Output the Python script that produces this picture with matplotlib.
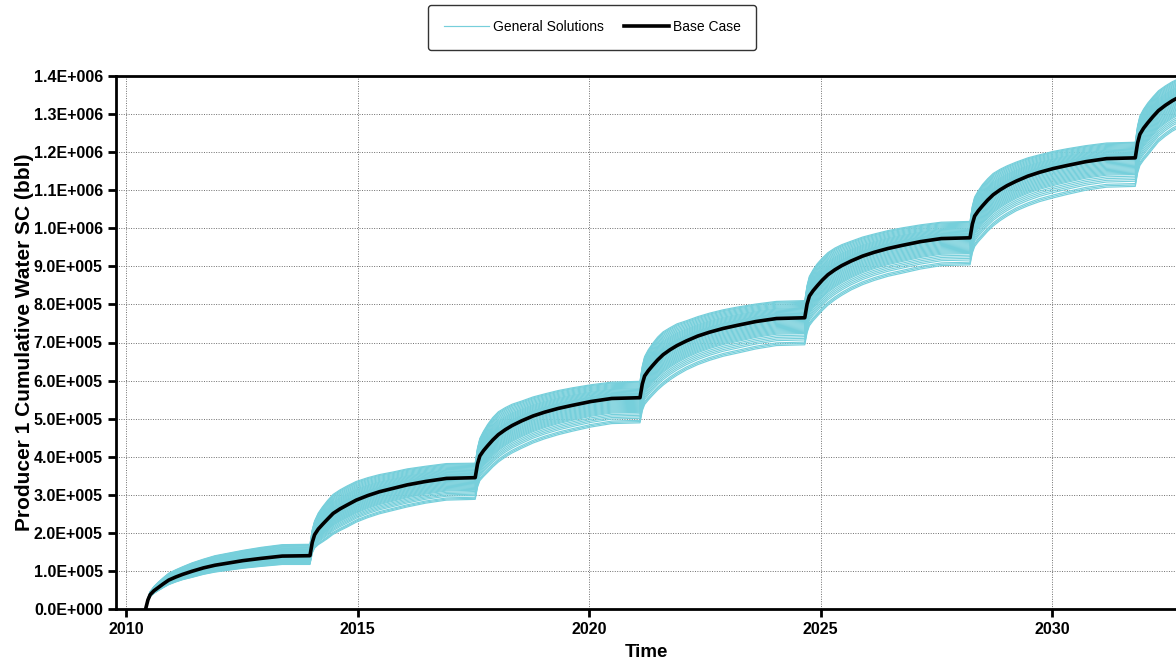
import numpy as np
import matplotlib.pyplot as plt
from matplotlib.ticker import FuncFormatter, MultipleLocator

plt.rcParams['font.family'] = ['Liberation Sans', 'DejaVu Sans']

# base case cumulative water (thousand bbl), one row per production cycle
years = [2010.42, 2010.47, 2010.52, 2010.60, 2010.69, 2010.80, 2010.92, 2011.07, 2011.22, 2011.42, 2011.67, 2011.92, 2012.22, 2012.52, 2012.92, 2013.37,
         2013.97, 2014.02, 2014.07, 2014.15, 2014.24, 2014.35, 2014.47, 2014.62, 2014.77, 2014.97, 2015.22, 2015.47, 2015.77, 2016.07, 2016.47, 2016.92,
         2017.54, 2017.59, 2017.64, 2017.72, 2017.81, 2017.92, 2018.04, 2018.19, 2018.34, 2018.54, 2018.79, 2019.04, 2019.34, 2019.64, 2020.04, 2020.49,
         2021.10, 2021.15, 2021.20, 2021.28, 2021.37, 2021.48, 2021.60, 2021.75, 2021.90, 2022.10, 2022.35, 2022.60, 2022.90, 2023.20, 2023.60, 2024.05,
         2024.66, 2024.71, 2024.76, 2024.84, 2024.93, 2025.04, 2025.16, 2025.31, 2025.46, 2025.66, 2025.91, 2026.16, 2026.46, 2026.76, 2027.16, 2027.61,
         2028.23, 2028.28, 2028.33, 2028.41, 2028.50, 2028.61, 2028.73, 2028.88, 2029.03, 2029.23, 2029.48, 2029.73, 2030.03, 2030.33, 2030.73, 2031.18,
         2031.80, 2031.85, 2031.90, 2031.98, 2032.07, 2032.18, 2032.30, 2032.45, 2032.60, 2032.80]
base_k = [0, 24, 38, 48, 56, 66, 76, 84, 91, 99, 108, 115, 121, 127, 133, 139,
          140, 175, 195, 210, 222, 236, 251, 263, 273, 286, 298, 308, 317, 326, 335, 343,
          345, 381, 402, 416, 429, 444, 458, 471, 482, 494, 507, 517, 527, 535, 545, 553,
          555, 591, 612, 626, 639, 654, 668, 681, 692, 704, 717, 727, 737, 745, 755, 763,
          765, 801, 822, 836, 849, 864, 878, 891, 902, 914, 927, 937, 947, 955, 965, 973,
          975, 1011, 1032, 1046, 1059, 1074, 1088, 1101, 1112, 1124, 1137, 1147, 1157, 1165, 1175, 1183,
          1185, 1224, 1247, 1263, 1277, 1293, 1309, 1323, 1335, 1348]

# spread of the general solutions above / below the base case (thousand bbl)
upper_k = [0, 5, 8, 11, 14, 16, 18, 19, 20, 22, 23, 25, 26, 27, 29, 30,
           30, 33, 36, 42, 46, 49, 50, 50, 50, 49, 47, 45, 43, 42, 40, 39,
           38, 42, 46, 51, 56, 59, 60, 58, 56, 52, 50, 48, 47, 46, 44, 43,
           43, 47, 51, 55, 58, 60, 60, 58, 57, 53, 51, 50, 49, 48, 46, 45,
           45, 49, 52, 55, 58, 58, 58, 57, 55, 52, 50, 48, 47, 46, 44, 43,
           43, 47, 50, 53, 56, 56, 56, 54, 52, 50, 48, 46, 45, 44, 42, 41,
           41, 45, 48, 50, 52, 52, 52, 51, 50, 48]
lower_k = [0, -3, -5, -7, -8, -10, -12, -13, -14, -16, -17, -18, -19, -20, -21, -22,
           -23, -28, -35, -41, -46, -51, -55, -57, -58, -58, -58, -58, -58, -58, -57, -57,
           -57, -61, -65, -68, -70, -71, -72, -72, -72, -72, -71, -70, -69, -68, -67, -66,
           -66, -70, -75, -77, -78, -79, -80, -79, -78, -76, -75, -74, -73, -73, -72, -71,
           -71, -75, -78, -79, -80, -80, -80, -79, -78, -76, -75, -74, -73, -73, -72, -71,
           -71, -76, -80, -81, -82, -82, -82, -81, -80, -78, -78, -77, -77, -76, -75, -75,
           -75, -79, -82, -84, -85, -84, -82, -81, -80, -80]

# where each general solution sits inside that spread (-1 lowest, 1 highest)
positions = [1.0, 0.95, 0.9, 0.84, 0.78, 0.72, 0.66, 0.6, 0.55, 0.5,
             0.45, 0.4, 0.35, 0.3, 0.26, 0.22, 0.18, 0.14, 0.1, 0.06,
             0.03, -0.02, -0.06, -0.1, -0.14, -0.18, -0.22, -0.26, -0.3, -0.34,
             -0.38, -0.42, -0.46, -0.5, -0.54, -0.58, -0.64, -0.7, -0.76, -0.82,
             -0.9, -0.95, -1.0]

x = np.array(years)
base = np.array(base_k) * 1000.0
up = np.array(upper_k) * 1000.0
lo = np.array(lower_k) * 1000.0

fig = plt.figure(figsize=(11.76, 6.62), dpi=100)
ax = fig.add_axes([116 / 1176, 53 / 662, 1060 / 1176, 533 / 662])

for i, p in enumerate(positions):
    y = base + (p * up if p >= 0 else -p * lo)
    ax.plot(x, y, color='#76cfdb', lw=0.85,
            label='General Solutions' if i == 0 else None, zorder=2)
ax.plot(x, base, color='black', lw=2.6, label='Base Case', zorder=3)

ax.set_xlim(2009.78, 2032.68)
ax.set_ylim(0, 1.4e6)
ax.xaxis.set_major_locator(MultipleLocator(5))
ax.yaxis.set_major_locator(MultipleLocator(1e5))


def sci(v, pos):
    if v <= 0:
        return '0.0E+000'
    e = int(np.floor(np.log10(v) + 1e-9))
    return f'{v / 10**e:.1f}E+{e:03d}'


ax.yaxis.set_major_formatter(FuncFormatter(sci))
ax.grid(True, color='#6e6e6e', ls=(0, (1, 1.5)), lw=0.7)
ax.set_axisbelow(True)

for s in ['left', 'bottom', 'top']:
    ax.spines[s].set_linewidth(2.0)
ax.spines['right'].set_visible(False)
ax.tick_params(direction='out', length=6, width=2, labelsize=11.5)
for lab in ax.get_xticklabels() + ax.get_yticklabels():
    lab.set_fontweight('bold')

ax.set_xlabel('Time', fontsize=13.5, fontweight='bold', labelpad=5)
ax.set_ylabel('Producer 1 Cumulative Water SC (bbl)', fontsize=15,
              fontweight='bold', labelpad=-0.5)

leg = fig.legend(loc='upper center', bbox_to_anchor=(0.5035, 0.9924), ncol=2,
                 fontsize=10, frameon=True, fancybox=True, edgecolor='black',
                 handlelength=3.24, columnspacing=1.44, borderpad=1.1,
                 handletextpad=0.3, borderaxespad=0)
leg.get_frame().set_linewidth(1.0)

fig.savefig('out.png', dpi=100)
